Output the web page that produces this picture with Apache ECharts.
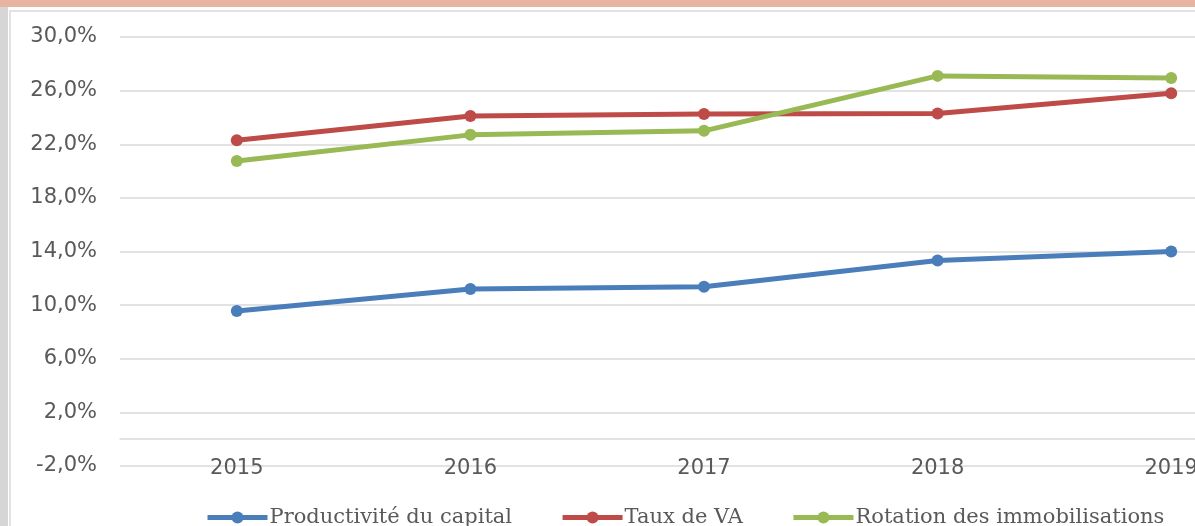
<!DOCTYPE html>
<html>
<head>
<meta charset="utf-8">
<script src="https://cdn.jsdelivr.net/npm/echarts@6/dist/echarts.min.js"></script>
<style>
  html, body { margin: 0; padding: 0; width: 1195px; height: 526px; overflow: hidden; background: #ffffff; position: relative; }
  #topBand { position: absolute; left: 0; top: 0; width: 1195px; height: 7px; background: #e8b4a2; z-index: 2; }
  #leftBand { position: absolute; left: 0; top: 7px; width: 8px; height: 519px; background: #d6d6d6; z-index: 2; }
  #frame { position: absolute; left: 9px; top: 10px; width: 1186px; height: 516px; border-left: 2px solid #e2e2e2; border-top: 2px solid #e2e2e2; box-sizing: border-box; }
  #main { position: absolute; left: 0; top: 0; width: 1288px; height: 526px; }
</style>
</head>
<body>
<div id="topBand"></div>
<div id="leftBand"></div>
<div id="frame"></div>
<div id="main"></div>
<script>
  "use strict"

  // années
  var years = ["2015", "2016", "2017", "2018", "2019"];
  // séries (en %)
  var productiviteCapital = [9.57, 11.2, 11.37, 13.33, 14.0];
  var tauxVA = [22.3, 24.1, 24.25, 24.3, 25.8];
  var rotationImmo = [20.75, 22.7, 23.0, 27.1, 26.95];
  var seriesNames = ["Productivité du capital", "Taux de VA", "Rotation des immobilisations"];
  var seriesColors = ["#4a7ebb", "#be4b48", "#98b954"];

  var chart = echarts.init(document.getElementById("main"));

  function makeSeries(name, data, color) {
    return {
      name: name,
      type: "line",
      data: data,
      symbol: "circle",
      symbolSize: 12,
      itemStyle: { color: color },
      lineStyle: { color: color, width: 5 }
    };
  }

  var option = {
    animation: false,
    backgroundColor: "transparent",
    grid: {
      left: 120,
      top: 37,
      bottom: 60,
      right: 0,
      containLabel: false
    },
    legend: {
      left: 205,
      top: 507,
      padding: 0,
      itemWidth: 60,
      itemHeight: 15,
      itemGap: 48,
      data: seriesNames,
      lineStyle: { width: 5 },
      textStyle: {
        fontFamily: "DejaVu Serif",
        fontSize: 21,
        color: "#595959",
        padding: [0, 0, 0, -3]
      }
    },
    xAxis: {
      type: "category",
      data: years,
      boundaryGap: true,
      axisLine: { onZero: true, lineStyle: { color: "#d9d9d9", width: 1.5 } },
      axisTick: { show: false },
      axisLabel: {
        margin: -8,
        fontFamily: "DejaVu Sans",
        fontSize: 21,
        color: "#595959"
      },
      splitLine: { show: false }
    },
    yAxis: {
      type: "value",
      min: -2,
      max: 30,
      interval: 4,
      axisLine: { show: false },
      axisTick: { show: false },
      axisLabel: {
        margin: 23,
        fontFamily: "DejaVu Sans",
        fontSize: 21,
        color: "#595959",
        formatter: function (v) {
          return v.toFixed(1).replace(".", ",") + "%";
        }
      },
      splitLine: { lineStyle: { color: "#d9d9d9", width: 1.5 } }
    },
    series: [
      makeSeries(seriesNames[0], productiviteCapital, seriesColors[0]),
      makeSeries(seriesNames[1], tauxVA, seriesColors[1]),
      makeSeries(seriesNames[2], rotationImmo, seriesColors[2])
    ]
  };

  chart.setOption(option);
</script>
</body>
</html>
